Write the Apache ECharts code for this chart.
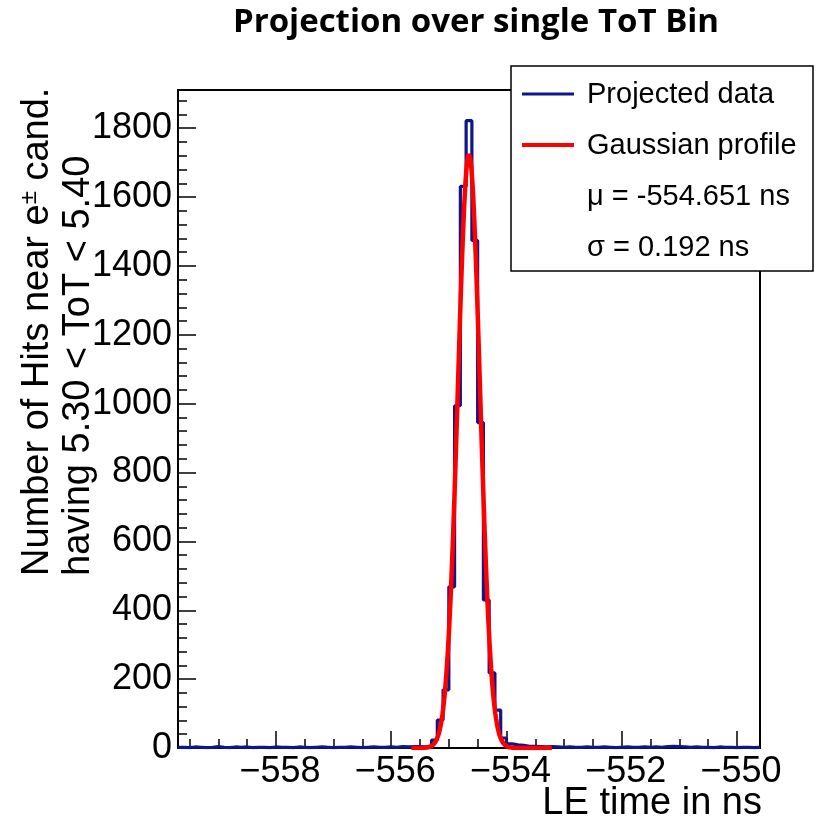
<!DOCTYPE html>
<html>
<head>
<meta charset="utf-8">
<script src="https://cdn.jsdelivr.net/npm/echarts@6/dist/echarts.min.js"></script>
<style>
  html, body { margin: 0; padding: 0; background: #fff; }
  #chart { width: 816px; height: 831px; }
</style>
</head>
<body>
<div id="chart"></div>
<script>
// Leading-edge time histogram, 0.1 ns bins starting at binLow
const binLow = -559.7;
const binWidth = 0.1;
const counts = [
  2, 1, 3, 2, 1, 2, 4, 2, 1, 3,
  2, 3, 1, 2, 2, 1, 3, 2, 2, 1,
  3, 2, 1, 2, 3, 2, 1, 2, 2, 3,
  2, 1, 2, 3, 2, 2, 3, 2, 4, 3,
  4, 4, 3, 6, 23, 81, 169, 468, 994, 1631,
  1822, 1474, 945, 430, 218, 110, 29, 12, 9, 8,
  5, 5, 4, 3, 4, 3, 2, 3, 2, 2,
  3, 2, 2, 3, 2, 1, 2, 3, 2, 2,
  3, 2, 3, 2, 4, 5, 4, 3, 2, 3,
  2, 2, 1, 3, 2, 2, 1, 2, 2, 1,
  2
];

// Gaussian fit result
const fitMu = -554.651;
const fitSigma = 0.192;
const fitAmplitude = 1725;
const fitRange = [-555.65, -553.2];

// Axes
const xRange = [-559.7, -549.6];
const yRange = [0, 1911];
const xMajorTicks = [-558, -556, -554, -552, -550];
const yMajorTicks = [0, 200, 400, 600, 800, 1000, 1200, 1400, 1600, 1800];

const titleText = 'Projection over single ToT Bin';
const xTitle = 'LE time in ns';
const yTitleLine1 = 'Number of Hits near e{sup|\u00b1} cand.';
const yTitleLine2 = 'having 5.30 < ToT < 5.40';
const legendNames = ['Projected data', 'Gaussian profile'];
const legendNotes = ['\u03bc = -554.651 ns', '\u03c3 = 0.192 ns'];

const histColor = '#0e168a';
const fitColor = '#ff0000';
const font = 'Liberation Sans, Arial, Helvetica, sans-serif';

// minor tick positions (0.5 ns on x, 40 counts on y)
const xMinorTicks = [];
for (let v = -559.5; v <= xRange[1] + 1e-9; v += 0.5) {
  const r = Math.round(v * 10) / 10;
  if (!xMajorTicks.includes(r)) xMinorTicks.push(r);
}
const yMinorTicks = [];
for (let v = 40; v <= yRange[1]; v += 40) {
  if (v % 200 !== 0) yMinorTicks.push(v);
}

// histogram outline as a step polyline
const histLine = [];
counts.forEach((c, i) => {
  const lo = Math.round((binLow + i * binWidth) * 100) / 100;
  const hi = Math.round((lo + binWidth) * 100) / 100;
  histLine.push([lo, c], [hi, c]);
});

// fitted Gaussian evaluated over the fit range
const fitLine = [];
const nFit = 200;
for (let k = 0; k <= nFit; k++) {
  const x = fitRange[0] + (fitRange[1] - fitRange[0]) * k / nFit;
  const z = (x - fitMu) / fitSigma;
  fitLine.push([x, fitAmplitude * Math.exp(-0.5 * z * z)]);
}

const chart = echarts.init(document.getElementById('chart'), null, { renderer: 'canvas' });

const minus = v => (v < 0 ? '\u2212' : '') + Math.abs(v);

chart.setOption({
  animation: false,
  backgroundColor: '#fff',
  grid: {
    left: 178, right: 56, top: 90, bottom: 83,
    show: true, borderColor: '#000', borderWidth: 2,
    backgroundColor: 'transparent',
    containLabel: false, outerBoundsMode: 'none'
  },
  xAxis: [
    {
      type: 'value', position: 'bottom', min: xRange[0], max: xRange[1],
      axisLine: { show: true, onZero: false, lineStyle: { color: '#000', width: 2 } },
      axisTick: { show: true, inside: true, length: 17, customValues: xMajorTicks,
                  lineStyle: { color: '#000', width: 1.5 } },
      axisLabel: { show: true, customValues: xMajorTicks, formatter: minus,
                   fontFamily: font, fontSize: 36, color: '#000', margin: 6,
                   padding: [0, 0, 0, 8] },
      splitLine: { show: false }
    },
    {
      type: 'value', position: 'bottom', min: xRange[0], max: xRange[1],
      axisLine: { show: false, onZero: false },
      axisTick: { show: true, inside: true, length: 9, customValues: xMinorTicks,
                  lineStyle: { color: '#000', width: 1.5 } },
      axisLabel: { show: false },
      splitLine: { show: false }
    }
  ],
  yAxis: [
    {
      type: 'value', position: 'left', min: yRange[0], max: yRange[1],
      axisLine: { show: true, onZero: false, lineStyle: { color: '#000', width: 2 } },
      axisTick: { show: true, inside: true, length: 18, customValues: yMajorTicks,
                  lineStyle: { color: '#000', width: 1.5 } },
      axisLabel: { show: true, customValues: yMajorTicks, formatter: v => String(v),
                   fontFamily: font, fontSize: 36, color: '#000', margin: 6 },
      splitLine: { show: false }
    },
    {
      type: 'value', position: 'left', min: yRange[0], max: yRange[1],
      axisLine: { show: false, onZero: false },
      axisTick: { show: true, inside: true, length: 9, customValues: yMinorTicks,
                  lineStyle: { color: '#000', width: 1.5 } },
      axisLabel: { show: false },
      splitLine: { show: false }
    }
  ],
  series: [
    {
      name: legendNames[0], type: 'line', xAxisIndex: 0, yAxisIndex: 0,
      data: histLine, showSymbol: false, symbol: 'none',
      lineStyle: { color: histColor, width: 3.2 }, z: 3
    },
    {
      name: legendNames[1], type: 'line', xAxisIndex: 0, yAxisIndex: 0,
      data: fitLine, showSymbol: false, symbol: 'none', smooth: false,
      lineStyle: { color: fitColor, width: 4.5 }, z: 4
    }
  ],
  graphic: [
    {
      type: 'text', x: 476, y: 23, z: 100,
      style: { text: titleText, fontFamily: 'Open Sans, sans-serif', fontWeight: 'bold',
               fontSize: 33, fill: '#000', align: 'center', verticalAlign: 'middle' }
    },
    {
      type: 'text', x: 762, y: 804, z: 100,
      style: { text: xTitle, fontFamily: font, fontSize: 38, fill: '#000',
               align: 'right', verticalAlign: 'middle' }
    },
    {
      type: 'text', x: 38, y: 576, rotation: Math.PI / 2, z: 100,
      style: { text: yTitleLine1, fontFamily: font, fontSize: 38, fill: '#000',
               align: 'left', verticalAlign: 'middle', lineHeight: 42,
               rich: { sup: { fontFamily: font, fontSize: 24, lineHeight: 24,
                              verticalAlign: 'top', fill: '#000' } } }
    },
    {
      type: 'text', x: 79, y: 576, rotation: Math.PI / 2, z: 100,
      style: { text: yTitleLine2, fontFamily: font, fontSize: 38, fill: '#000',
               align: 'left', verticalAlign: 'middle' }
    },
    {
      type: 'group', z: 100,
      children: [
        { type: 'rect', shape: { x: 511, y: 66, width: 302, height: 205 },
          style: { fill: '#fff', stroke: '#000', lineWidth: 1.5 }, z: 100 },
        { type: 'line', shape: { x1: 522, y1: 94, x2: 574, y2: 94 },
          style: { stroke: histColor, lineWidth: 3 }, z: 101 },
        { type: 'line', shape: { x1: 522, y1: 145, x2: 574, y2: 145 },
          style: { stroke: fitColor, lineWidth: 4 }, z: 101 },
        { type: 'text', x: 587, y: 95, z: 101,
          style: { text: legendNames[0], fontFamily: font, fontSize: 29, fill: '#000',
                   align: 'left', verticalAlign: 'middle' } },
        { type: 'text', x: 587, y: 146, z: 101,
          style: { text: legendNames[1], fontFamily: font, fontSize: 29, fill: '#000',
                   align: 'left', verticalAlign: 'middle' } },
        { type: 'text', x: 587, y: 197, z: 101,
          style: { text: legendNotes[0], fontFamily: font, fontSize: 29, fill: '#000',
                   align: 'left', verticalAlign: 'middle' } },
        { type: 'text', x: 587, y: 248, z: 101,
          style: { text: legendNotes[1], fontFamily: font, fontSize: 29, fill: '#000',
                   align: 'left', verticalAlign: 'middle' } }
      ]
    }
  ]
});
</script>
</body>
</html>
